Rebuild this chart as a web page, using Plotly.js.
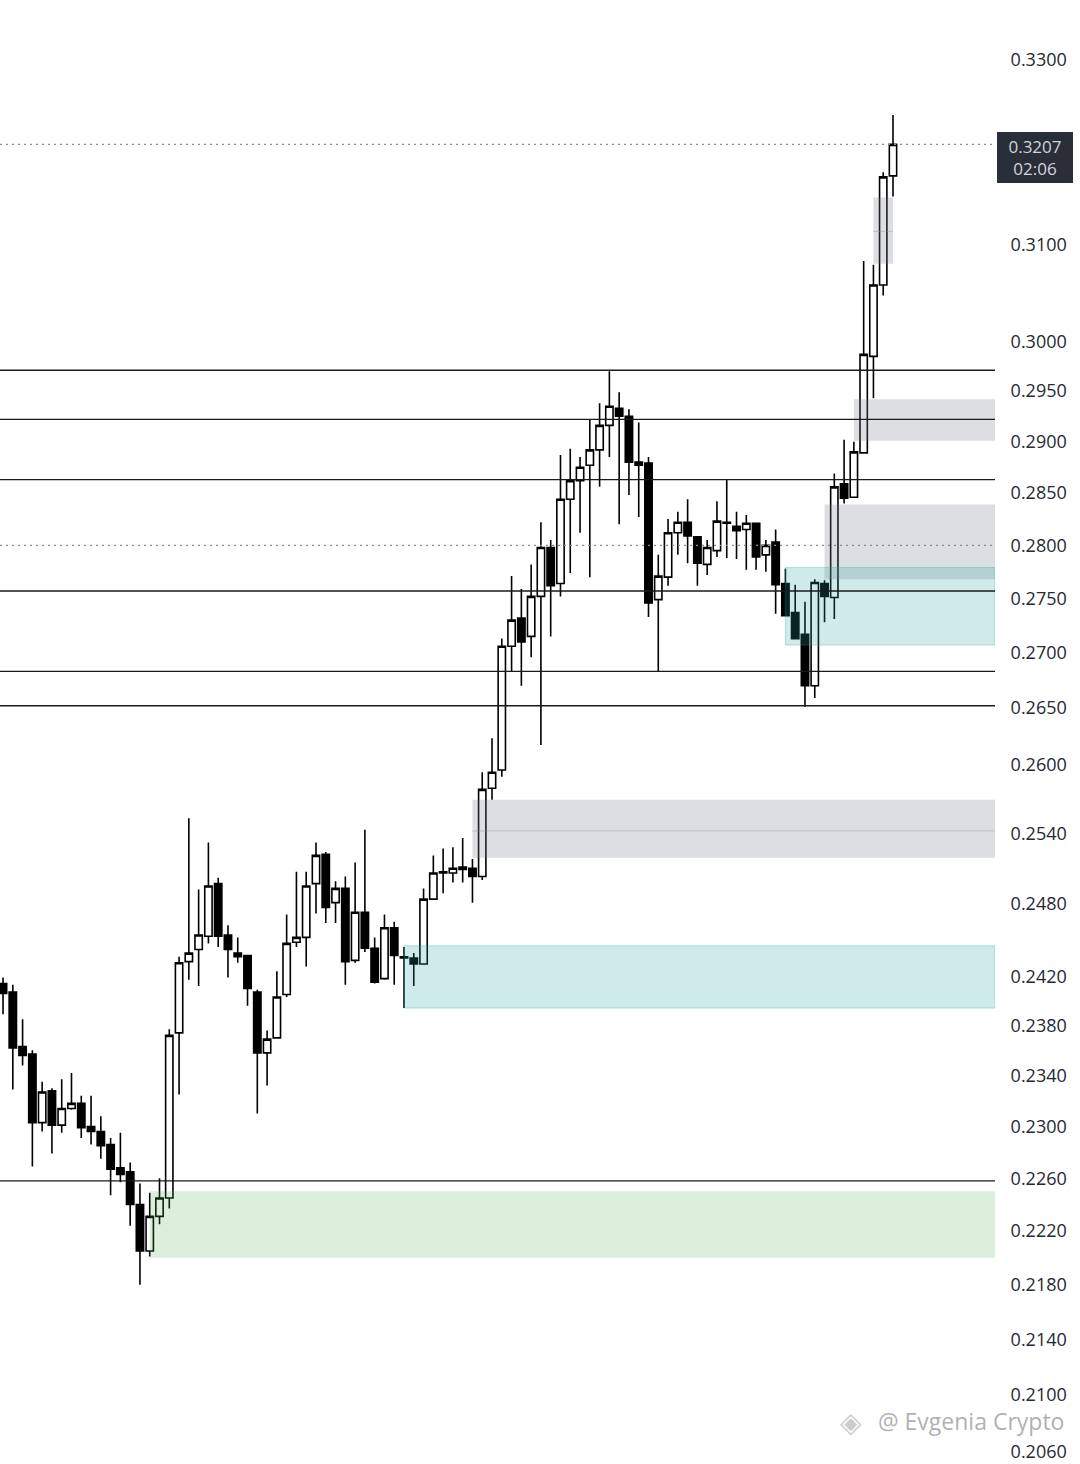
<!DOCTYPE html>
<html>
<head>
<meta charset="utf-8">
<script src="https://cdn.plot.ly/plotly-3.0.1.min.js"></script>
<style>
  html, body { margin: 0; padding: 0; background: #ffffff; }
  #chart { width: 1080px; height: 1464px; }
</style>
</head>
<body>
<div id="chart"></div>
<script>
// ---- candle data (index 0..91) ----
var openP = [0.2414,0.2407,0.2363,0.2357,0.2303,0.2328,0.2301,0.2314,0.2318,0.2300,
  0.2296,0.2286,0.2268,0.2265,0.2240,0.2205,0.2231,0.2245,0.2374,0.2432,
  0.2442,0.2453,0.2497,0.2454,0.2439,0.2437,0.2407,0.2358,0.2370,0.2405,
  0.2448,0.2452,0.2497,0.2522,0.2481,0.2493,0.2433,0.2473,0.2443,0.2418,
  0.2460,0.2436,0.2435,0.2430,0.2484,0.2506,0.2506,0.2509,0.2510,0.2503,
  0.2579,0.2595,0.2706,0.2732,0.2715,0.2752,0.2798,0.2764,0.2844,0.2862,
  0.2877,0.2892,0.2916,0.2933,0.2925,0.2880,0.2879,0.2749,0.2770,0.2812,
  0.2822,0.2808,0.2782,0.2795,0.2822,0.2818,0.2815,0.2821,0.2791,0.2803,
  0.2764,0.2737,0.2717,0.2670,0.2764,0.2751,0.2859,0.2846,0.2889,0.2985,
  0.3058,0.3173];
var highP = [0.2419,0.2413,0.2385,0.2360,0.2335,0.2330,0.2337,0.2342,0.2324,0.2324,
  0.2308,0.2291,0.2295,0.2272,0.2256,0.2249,0.2260,0.2377,0.2436,0.2553,
  0.2492,0.2532,0.2502,0.2462,0.2452,0.2437,0.2409,0.2376,0.2424,0.2471,
  0.2507,0.2507,0.2532,0.2524,0.2499,0.2503,0.2515,0.2543,0.2452,0.2471,
  0.2465,0.2444,0.2439,0.2493,0.2521,0.2527,0.2528,0.2536,0.2518,0.2593,
  0.2623,0.2713,0.2771,0.2759,0.2782,0.2822,0.2805,0.2887,0.2893,0.2885,
  0.2922,0.2938,0.2970,0.2949,0.2932,0.2919,0.2885,0.2791,0.2825,0.2832,
  0.2844,0.2808,0.2805,0.2842,0.2863,0.2832,0.2829,0.2821,0.2805,0.2815,
  0.2778,0.2763,0.2747,0.2768,0.2767,0.2869,0.2902,0.2900,0.3083,0.3079,
  0.3177,0.3239];
var lowP = [0.2389,0.2329,0.2348,0.2269,0.2296,0.2279,0.2295,0.2313,0.2291,0.2286,
  0.2275,0.2247,0.2257,0.2224,0.2180,0.2201,0.2225,0.2237,0.2325,0.2417,
  0.2412,0.2447,0.2444,0.2419,0.2431,0.2396,0.2310,0.2332,0.2370,0.2403,
  0.2444,0.2428,0.2472,0.2464,0.2464,0.2413,0.2431,0.2440,0.2414,0.2417,
  0.2413,0.2394,0.2412,0.2430,0.2484,0.2489,0.2498,0.2498,0.2481,0.2500,
  0.2569,0.2589,0.2683,0.2670,0.2696,0.2617,0.2715,0.2752,0.2774,0.2812,
  0.2770,0.2856,0.2885,0.2820,0.2848,0.2827,0.2733,0.2683,0.2762,0.2791,
  0.2783,0.2762,0.2772,0.2789,0.2788,0.2787,0.2777,0.2777,0.2775,0.2736,
  0.2734,0.2713,0.2651,0.2659,0.2728,0.2731,0.2840,0.2846,0.2889,0.2943,
  0.3047,0.3151];
var closeP = [0.2406,0.2362,0.2356,0.2303,0.2327,0.2301,0.2314,0.2318,0.2299,0.2296,
  0.2285,0.2267,0.2263,0.2240,0.2205,0.2231,0.2245,0.2372,0.2431,0.2439,
  0.2454,0.2495,0.2453,0.2442,0.2436,0.2410,0.2358,0.2369,0.2403,0.2447,
  0.2452,0.2495,0.2521,0.2477,0.2493,0.2432,0.2473,0.2443,0.2415,0.2460,
  0.2437,0.2435,0.2430,0.2484,0.2506,0.2507,0.2510,0.2511,0.2503,0.2578,
  0.2593,0.2706,0.2730,0.2710,0.2752,0.2798,0.2762,0.2844,0.2862,0.2875,
  0.2892,0.2916,0.2935,0.2925,0.2880,0.2877,0.2746,0.2771,0.2812,0.2822,
  0.2809,0.2783,0.2798,0.2823,0.2821,0.2814,0.2821,0.2789,0.2800,0.2763,
  0.2734,0.2713,0.2670,0.2765,0.2752,0.2856,0.2845,0.2890,0.2987,0.3058,
  0.3172,0.3207];

// ---- horizontal levels ----
var levels = [0.2971, 0.2922, 0.2863, 0.2757, 0.2683, 0.2652, 0.2258];
var dottedLevels = [0.3207, 0.2800];

// ---- zones (start candle index, top, bottom, kind) ----
var zoneStart  = [89, 87, 84, 80, 48, 41, 15];
var zoneTop    = [0.3150, 0.2942, 0.2839, 0.2779, 0.2569, 0.2445, 0.2250];
var zoneBottom = [0.3080, 0.2901, 0.2768, 0.2707, 0.2519, 0.2394, 0.2200];
var zoneKind   = ['grey', 'grey', 'grey', 'teal', 'grey', 'teal', 'green'];
var zoneEndAtCandle = [91, null, null, null, null, null, null];
var zoneMid    = [0.3114, null, null, null, 0.2542, null, null];

// ---- axis ticks ----
var tickVals = [0.3300,0.3100,0.3000,0.2950,0.2900,0.2850,0.2800,0.2750,0.2700,0.2650,
  0.2600,0.2540,0.2480,0.2420,0.2380,0.2340,0.2300,0.2260,0.2220,0.2180,0.2140,0.2100,0.2060];
var tickText = tickVals.map(function (v) { return v.toFixed(4); });

var lastPrice = '0.3207';
var countdown = '02:06';
var watermark = '@ Evgenia Crypto';

// ---- layout constants ----
var xRange = [-0.31, 101.43];
var yRangeLog = [-0.6879, -0.47267];

var fills = {
  grey:  { fill: 'rgba(120,123,134,0.25)', line: 'rgba(120,123,134,0.0)' },
  teal:  { fill: 'rgba(38,166,154,0.22)',  line: 'rgba(38,166,154,0.30)' },
  green: { fill: 'rgba(76,175,80,0.20)',   line: 'rgba(76,175,80,0.0)' }
};

var idx = openP.map(function (_, i) { return i; });
var traces = [];

// zones
zoneStart.forEach(function (x0, k) {
  var x1 = zoneEndAtCandle[k] !== null ? zoneEndAtCandle[k] : xRange[1];
  var f = fills[zoneKind[k]];
  traces.push({
    type: 'scatter', mode: 'lines',
    x: [x0, x1, x1, x0, x0],
    y: [zoneTop[k], zoneTop[k], zoneBottom[k], zoneBottom[k], zoneTop[k]],
    fill: 'toself', fillcolor: f.fill,
    line: { color: f.line, width: 1 },
    hoverinfo: 'skip', showlegend: false
  });
  if (zoneMid[k] !== null) {
    traces.push({
      type: 'scatter', mode: 'lines',
      x: [x0, x1], y: [zoneMid[k], zoneMid[k]],
      line: { color: 'rgba(150,150,160,0.45)', width: 1 },
      hoverinfo: 'skip', showlegend: false
    });
  }
});

// dotted lines
dottedLevels.forEach(function (v) {
  traces.push({
    type: 'scatter', mode: 'lines',
    x: [xRange[0], xRange[1]], y: [v, v],
    line: { color: '#8a8a8a', width: 1.2, dash: '2px,4px' },
    hoverinfo: 'skip', showlegend: false
  });
});

// solid levels
levels.forEach(function (v) {
  traces.push({
    type: 'scatter', mode: 'lines',
    x: [xRange[0], xRange[1]], y: [v, v],
    line: { color: '#1a1a1a', width: 1.4 },
    hoverinfo: 'skip', showlegend: false
  });
});

// candles
traces.push({
  type: 'candlestick',
  x: idx, open: openP, high: highP, low: lowP, close: closeP,
  whiskerwidth: 0,
  increasing: { line: { color: '#000000', width: 1.6 }, fillcolor: '#ffffff' },
  decreasing: { line: { color: '#000000', width: 1.6 }, fillcolor: '#000000' },
  hoverinfo: 'skip', showlegend: false
});

var layout = {
  width: 1080, height: 1464,
  margin: { l: 0, r: 85, t: 0, b: 0, pad: 0 },
  paper_bgcolor: '#ffffff', plot_bgcolor: '#ffffff',
  showlegend: false,
  boxgap: 0.25, boxgroupgap: 0,
  xaxis: {
    range: xRange, showgrid: false, zeroline: false, showticklabels: false,
    ticks: '', showline: false, rangeslider: { visible: false }, fixedrange: true
  },
  yaxis: {
    type: 'log', range: yRangeLog, side: 'right',
    tickvals: tickVals, ticktext: tickText,
    showgrid: false, zeroline: false, showline: false,
    ticks: 'outside', ticklen: 11, tickcolor: 'rgba(0,0,0,0)',
    tickfont: { family: 'Open Sans, sans-serif', size: 18, color: '#262a33' },
    fixedrange: true
  },
  annotations: [
    {
      xref: 'paper', yref: 'paper', x: 1, y: 1 - 157 / 1464,
      xanchor: 'left', yanchor: 'middle', xshift: 2,
      text: lastPrice + '<br>' + countdown, showarrow: false, align: 'center',
      width: 68, height: 43, borderpad: 3,
      bgcolor: '#2a2e39', bordercolor: '#2a2e39',
      font: { family: 'Open Sans, sans-serif', size: 17, color: '#d1d4dc' }
    },
    {
      xref: 'paper', yref: 'paper', x: 1066 / 995, y: 1 - 1421 / 1464,
      xanchor: 'right', yanchor: 'middle',
      text: watermark, showarrow: false,
      font: { family: 'Open Sans, sans-serif', size: 23, color: 'rgba(150,150,150,0.75)' }
    },
    {
      xref: 'paper', yref: 'paper', x: 851 / 995, y: 1 - 1422 / 1464,
      xanchor: 'center', yanchor: 'middle',
      text: '◈', showarrow: false,
      font: { family: 'DejaVu Sans, sans-serif', size: 28, color: 'rgba(170,170,170,0.6)' }
    }
  ]
};

Plotly.newPlot('chart', traces, layout, { displayModeBar: false, staticPlot: true });
</script>
</body>
</html>
